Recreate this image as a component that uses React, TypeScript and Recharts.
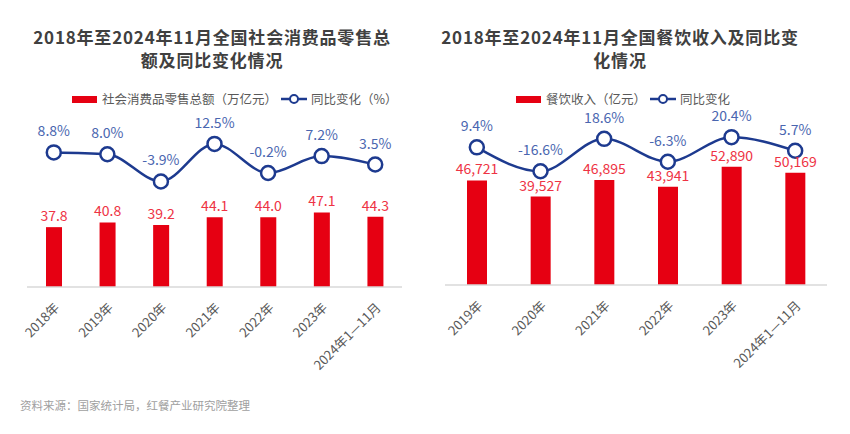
import React from 'react'
import { ComposedChart, Bar, Line, XAxis, YAxis, LabelList } from 'recharts'

// 社会消费品零售总额
const retailYears = ['2018年', '2019年', '2020年', '2021年', '2022年', '2023年', '2024年1—11月']
const retailTotal = [37.8, 40.8, 39.2, 44.1, 44.0, 47.1, 44.3]
const retailGrowth = [8.8, 8.0, -3.9, 12.5, -0.2, 7.2, 3.5]

// 餐饮收入
const cateringYears = ['2019年', '2020年', '2021年', '2022年', '2023年', '2024年1—11月']
const cateringIncome = [46721, 39527, 46895, 43941, 52890, 50169]
const cateringGrowth = [9.4, -16.6, 18.6, -6.3, 20.4, 5.7]

const FONT = '"Noto Sans CJK SC", "Noto Sans", sans-serif'
const RED = '#e60012'
const RED_TEXT = '#ee3344'
const NAVY = '#1d3a8f'
const BLUE_TEXT = '#4a66b0'
const GRAY = '#595959'

const retailData = retailYears.map((name, i) => ({ name, total: retailTotal[i], growth: retailGrowth[i] }))
const cateringData = cateringYears.map((name, i) => ({ name, total: cateringIncome[i], growth: cateringGrowth[i] }))

function Legend({ left, barLabel, lineLabel }: { left: number; barLabel: string; lineLabel: string }) {
  return (
    <div style={{ position: 'absolute', left, top: 92, height: 14, lineHeight: '14px', display: 'flex', alignItems: 'center', fontSize: 12.5, color: GRAY, whiteSpace: 'nowrap' }}>
      <span style={{ display: 'inline-block', width: 25, height: 7, background: RED, marginRight: 5 }} />
      <span>{barLabel}</span>
      <svg width={26} height={12} style={{ margin: '0 4px 0 4px' }}>
        <line x1={0} y1={6} x2={26} y2={6} stroke={NAVY} strokeWidth={2.5} />
        <circle cx={13} cy={6} r={4} fill="#fff" stroke={NAVY} strokeWidth={2} />
      </svg>
      <span>{lineLabel}</span>
    </div>
  )
}

function Title({ center, lines }: { center: number; lines: string[] }) {
  return (
    <div style={{ position: 'absolute', left: center - 200, top: 25, width: 400, textAlign: 'center', fontSize: 17, fontWeight: 700, color: '#404040', lineHeight: '23px', letterSpacing: 0.8 }}>
      {lines.map((l) => (
        <div key={l}>{l}</div>
      ))}
    </div>
  )
}

const tickStyle = { fontSize: 13, fill: GRAY, fontFamily: FONT }

export default function App() {
  return (
    <div style={{ position: 'absolute', left: 0, top: 0, width: 850, height: 434, background: '#fff', fontFamily: FONT, overflow: 'hidden' }}>
      <Title center={212} lines={['2018年至2024年11月全国社会消费品零售总', '额及同比变化情况']} />
      <Title center={620} lines={['2018年至2024年11月全国餐饮收入及同比变', '化情况']} />
      <Legend left={72} barLabel="社会消费品零售总额（万亿元）" lineLabel="同比变化（%）" />
      <Legend left={516} barLabel="餐饮收入（亿元）" lineLabel="同比变化" />

      <div style={{ position: 'absolute', left: 0, top: 0 }}>
        <ComposedChart width={425} height={390} data={retailData} margin={{ top: 97, right: 23, left: 27, bottom: 23 }}>
          <XAxis
            dataKey="name"
            axisLine={{ stroke: '#d9d9d9', strokeWidth: 1.5 }}
            tickLine={false}
            tickMargin={9}
            interval={0}
            angle={-45}
            textAnchor="end"
            height={80}
            tick={tickStyle}
          />
          <YAxis yAxisId="bar" hide domain={[0, 120]} />
          <YAxis yAxisId="line" hide domain={[-50, 33]} />
          <Bar yAxisId="bar" dataKey="total" fill={RED} barSize={16} isAnimationActive={false}>
            <LabelList dataKey="total" position="top" offset={6} fill={RED_TEXT} fontSize={14} formatter={(v: number) => v.toFixed(1)} />
          </Bar>
          <Line
            yAxisId="line"
            dataKey="growth"
            type="monotone"
            stroke={NAVY}
            strokeWidth={2.5}
            dot={{ r: 7, fill: '#fff', stroke: NAVY, strokeWidth: 2.5 }}
            isAnimationActive={false}
          >
            <LabelList dataKey="growth" position="top" offset={16} fill={BLUE_TEXT} fontSize={14} formatter={(v: number) => v.toFixed(1) + '%'} />
          </Line>
        </ComposedChart>
      </div>

      <div style={{ position: 'absolute', left: 425, top: 0 }}>
        <ComposedChart width={425} height={390} data={cateringData} margin={{ top: 97, right: 23, left: 20, bottom: 25 }}>
          <XAxis
            dataKey="name"
            axisLine={{ stroke: '#d9d9d9', strokeWidth: 1.5 }}
            tickLine={false}
            tickMargin={9}
            interval={0}
            angle={-45}
            textAnchor="end"
            height={80}
            tick={tickStyle}
          />
          <YAxis yAxisId="bar" hide domain={[0, 84000]} />
          <YAxis yAxisId="line" hide domain={[-140, 64]} />
          <Bar yAxisId="bar" dataKey="total" fill={RED} barSize={20} isAnimationActive={false}>
            <LabelList dataKey="total" position="top" offset={6} fill={RED_TEXT} fontSize={14} formatter={(v: number) => v.toLocaleString('en-US')} />
          </Bar>
          <Line
            yAxisId="line"
            dataKey="growth"
            type="monotone"
            stroke={NAVY}
            strokeWidth={2.5}
            dot={{ r: 7, fill: '#fff', stroke: NAVY, strokeWidth: 2.5 }}
            isAnimationActive={false}
          >
            <LabelList dataKey="growth" position="top" offset={16} fill={BLUE_TEXT} fontSize={14} formatter={(v: number) => v.toFixed(1) + '%'} />
          </Line>
        </ComposedChart>
      </div>

      <div style={{ position: 'absolute', left: 20, top: 397, fontSize: 11.5, color: '#a0a0a0' }}>
        资料来源：国家统计局，红餐产业研究院整理
      </div>
    </div>
  )
}
